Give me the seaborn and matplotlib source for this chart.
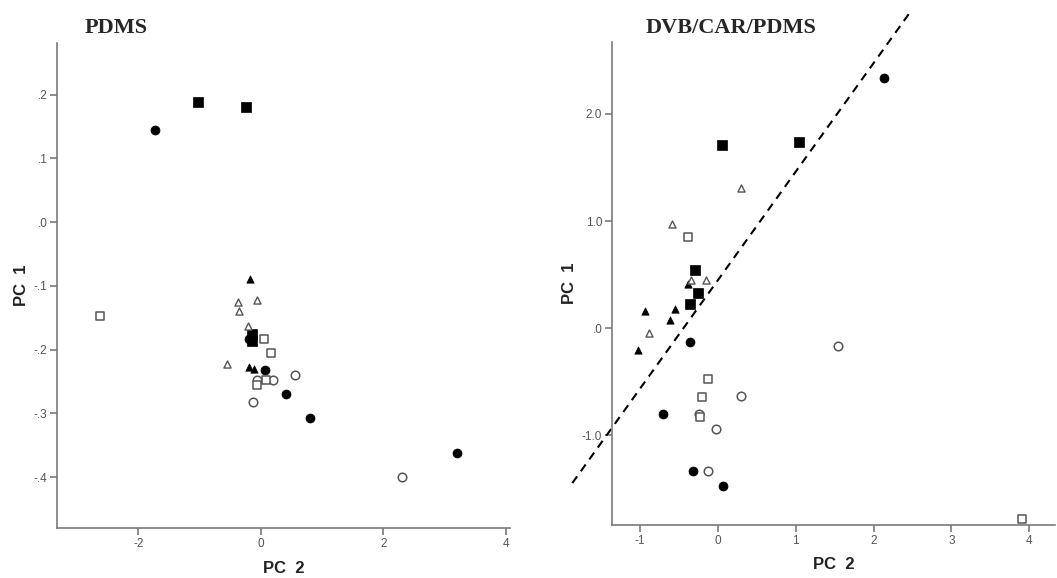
import matplotlib
matplotlib.use("Agg")
import matplotlib.pyplot as plt
import seaborn as sns
import pandas as pd
from matplotlib.ticker import FixedLocator, FixedFormatter

# ---------------- data: PDMS panel ----------------
pdms_fc_x = [-1.73, 0.07, 0.41, 0.81, 3.21, -0.20]
pdms_fc_y = [0.144, -0.232, -0.269, -0.308, -0.363, -0.183]
pdms_oc_x = [0.56, -0.07, 0.19, -0.13, 2.30]
pdms_oc_y = [-0.240, -0.247, -0.248, -0.283, -0.400]
pdms_fs_x = [-1.03, -0.25, -0.15, -0.15]
pdms_fs_y = [0.188, 0.180, -0.176, -0.186]
pdms_os_x = [-2.63, 0.05, 0.17, -0.07, 0.09]
pdms_os_y = [-0.148, -0.183, -0.205, -0.256, -0.248]
pdms_ft_x = [-0.17, -0.19, -0.12]
pdms_ft_y = [-0.090, -0.227, -0.230]
pdms_ot_x = [-0.38, -0.06, -0.36, -0.21, -0.56]
pdms_ot_y = [-0.125, -0.122, -0.140, -0.163, -0.222]

# ---------------- data: DVB/CAR/PDMS panel ----------------
dvb_fc_x = [2.14, -0.36, -0.71, -0.32, 0.06]
dvb_fc_y = [2.34, -0.13, -0.80, -1.33, -1.47]
dvb_oc_x = [1.54, 0.30, -0.24, -0.02, -0.13]
dvb_oc_y = [-0.17, -0.63, -0.80, -0.94, -1.33]
dvb_fs_x = [0.05, 1.04, -0.30, -0.26, -0.36]
dvb_fs_y = [1.71, 1.74, 0.54, 0.33, 0.23]
dvb_os_x = [-0.39, -0.13, -0.20, -0.23, 3.91]
dvb_os_y = [0.85, -0.47, -0.64, -0.83, -1.78]
dvb_ft_x = [-0.39, -0.93, -0.55, -0.62, -1.02]
dvb_ft_y = [0.41, 0.16, 0.18, 0.08, -0.20]
dvb_ot_x = [0.30, -0.59, -0.34, -0.15, -0.88]
dvb_ot_y = [1.31, 0.97, 0.45, 0.45, -0.04]

# dashed separating line (data coordinates of its two ends)
line_x = [-1.87, 2.46]
line_y = [-1.445, 2.94]

# tick labels
pdms_yticks = [0.2, 0.1, 0.0, -0.1, -0.2, -0.3, -0.4]
pdms_ylabels = [".2", ".1", ".0", "-.1", "-.2", "-.3", "-.4"]
pdms_xticks = [-2, 0, 2, 4]
pdms_xlabels = ["-2", "0", "2", "4"]
dvb_yticks = [2.0, 1.0, 0.0, -1.0]
dvb_ylabels = ["2.0", "1.0", ".0", "-1.0"]
dvb_xticks = [-1, 0, 1, 2, 3, 4]
dvb_xlabels = ["-1", "0", "1", "2", "3", "4"]

sns.set_theme(style="white")
plt.rcParams["font.family"] = ["Liberation Sans", "DejaVu Sans"]

fig = plt.figure(figsize=(10.57, 5.78), dpi=100)
ax1 = fig.add_axes([0.054, 0.0865, 0.4285, 0.839])
ax2 = fig.add_axes([0.579, 0.0917, 0.419, 0.8353])

GRAY = "#7a7a7a"
EDGE_OPEN = "#555555"

def draw(ax, fc, oc, fs, os_, ft, ot):
    specs = [
        (fc, "o", "black", "black", 42, 0.5),
        (oc, "o", "white", EDGE_OPEN, 38, 1.1),
        (fs, "s", "black", "black", 44, 0.5),
        (os_, "s", "white", EDGE_OPEN, 40, 1.1),
        (ft, "^", "black", "black", 28, 0.5),
        (ot, "^", "white", EDGE_OPEN, 26, 1.0),
    ]
    for (xs, ys), m, fcol, ecol, s, lw in specs:
        df = pd.DataFrame({"x": xs, "y": ys})
        sns.scatterplot(data=df, x="x", y="y", marker=m, color=fcol,
                        edgecolor=ecol, s=s, linewidth=lw, ax=ax, zorder=3)

draw(ax1, (pdms_fc_x, pdms_fc_y), (pdms_oc_x, pdms_oc_y), (pdms_fs_x, pdms_fs_y),
     (pdms_os_x, pdms_os_y), (pdms_ft_x, pdms_ft_y), (pdms_ot_x, pdms_ot_y))
draw(ax2, (dvb_fc_x, dvb_fc_y), (dvb_oc_x, dvb_oc_y), (dvb_fs_x, dvb_fs_y),
     (dvb_os_x, dvb_os_y), (dvb_ft_x, dvb_ft_y), (dvb_ot_x, dvb_ot_y))

ax2.plot(line_x, line_y, color="black", linestyle=(0, (4, 3)), linewidth=1.5,
         clip_on=False, zorder=2)

ax1.set_xlim(-3.33, 4.07)
ax1.set_ylim(-0.48, 0.281)
ax2.set_xlim(-1.36, 4.33)
ax2.set_ylim(-1.836, 2.67)

for ax, xt, xl, yt, yl in [(ax1, pdms_xticks, pdms_xlabels, pdms_yticks, pdms_ylabels),
                           (ax2, dvb_xticks, dvb_xlabels, dvb_yticks, dvb_ylabels)]:
    ax.xaxis.set_major_locator(FixedLocator(xt))
    ax.xaxis.set_major_formatter(FixedFormatter(xl))
    ax.yaxis.set_major_locator(FixedLocator(yt))
    ax.yaxis.set_major_formatter(FixedFormatter(yl))
    for sp in ["top", "right"]:
        ax.spines[sp].set_visible(False)
    for sp in ["left", "bottom"]:
        ax.spines[sp].set_color(GRAY)
        ax.spines[sp].set_linewidth(1.2)
    ax.tick_params(axis="both", direction="out", length=5, width=1.2,
                   color=GRAY, labelcolor="#555555", labelsize=8.5, pad=2,
                   bottom=True, left=True)
    ax.set_xlabel("PC  2", fontsize=12, fontweight="bold", color="#222222")
    ax.set_ylabel("PC  1", fontsize=12, fontweight="bold", color="#222222")
    ax.patch.set_alpha(0)

ax1.xaxis.set_label_coords(0.5, -0.068)
ax2.xaxis.set_label_coords(0.5, -0.066)
ax1.yaxis.set_label_coords(-0.062, 0.5)
ax2.yaxis.set_label_coords(-0.078, 0.5)

fig.text(0.080, 0.935, "PDMS", fontsize=16, fontweight="bold",
         family=["Liberation Serif", "DejaVu Serif"], ha="left", va="bottom")
fig.text(0.611, 0.935, "DVB/CAR/PDMS", fontsize=16, fontweight="bold",
         family=["Liberation Serif", "DejaVu Serif"], ha="left", va="bottom")

fig.savefig("out.png", dpi=100, facecolor="white")
